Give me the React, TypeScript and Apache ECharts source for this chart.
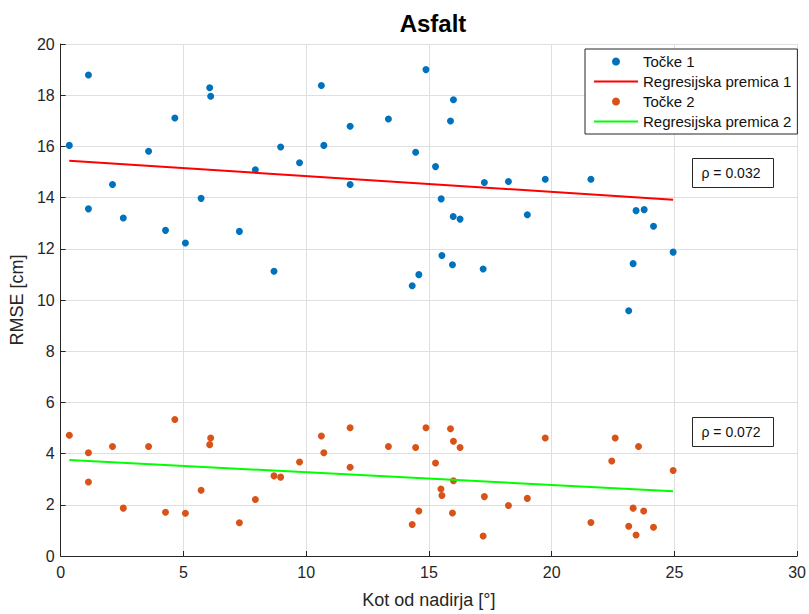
import React, { useEffect, useRef } from "react";
import * as echarts from "echarts";

const angles1 = [0.35, 1.13, 1.13, 2.11, 2.55, 3.58, 4.27, 4.65, 5.08, 5.72, 6.07, 6.11, 7.28, 7.93, 8.69, 8.96, 9.73, 10.62, 10.72, 11.79, 11.79, 13.35, 14.46, 14.32, 14.59, 14.88, 16.0, 15.88, 15.27, 15.5, 15.99, 16.27, 17.26, 18.24, 19.74, 21.6, 19.01, 15.53, 15.96, 17.21, 23.44, 23.77, 24.15, 24.95, 23.32, 23.14];
const rmse1 = [16.04, 18.79, 13.56, 14.51, 13.2, 15.81, 12.72, 17.11, 12.23, 13.97, 18.29, 17.96, 12.68, 15.09, 11.12, 15.98, 15.36, 18.38, 16.04, 16.79, 14.51, 17.07, 15.77, 10.56, 10.99, 19.0, 17.82, 16.99, 15.21, 13.95, 13.26, 13.16, 14.59, 14.63, 14.72, 14.72, 13.33, 11.74, 11.38, 11.21, 13.49, 13.53, 12.88, 11.87, 11.42, 9.58];

const angles2 = [0.35, 1.13, 1.13, 2.11, 2.55, 3.58, 4.27, 4.65, 5.08, 5.72, 6.07, 6.11, 7.28, 7.93, 8.69, 8.96, 9.73, 10.62, 10.72, 11.79, 11.79, 13.35, 14.46, 14.32, 14.59, 14.88, 15.88, 16.0, 16.27, 15.27, 16.0, 15.49, 15.53, 15.96, 17.26, 17.21, 18.24, 19.01, 19.74, 21.6, 22.59, 22.45, 23.54, 24.95, 23.32, 23.75, 23.14, 23.44, 24.15];
const rmse2 = [4.72, 4.03, 2.89, 4.28, 1.87, 4.28, 1.71, 5.33, 1.67, 2.57, 4.35, 4.61, 1.3, 2.21, 3.13, 3.08, 3.67, 4.69, 4.03, 5.01, 3.47, 4.28, 4.24, 1.23, 1.76, 5.01, 4.97, 4.48, 4.24, 3.63, 2.94, 2.62, 2.36, 1.68, 2.32, 0.78, 1.97, 2.25, 4.61, 1.31, 4.61, 3.71, 4.28, 3.34, 1.87, 1.76, 1.16, 0.82, 1.12];

const fitX = [0.35, 24.95];
const fit1 = [15.44, 13.92];
const fit2 = [3.75, 2.53];

const seriesNames = ["Točke 1", "Regresijska premica 1", "Točke 2", "Regresijska premica 2"];
const rhoLabels = ["ρ = 0.032", "ρ = 0.072"];

const xTicks = { min: 0, max: 30, interval: 5 };
const yTicks = { min: 0, max: 20, interval: 2 };

const FONT = "'Liberation Sans', Arial, Helvetica, sans-serif";
const AXIS_COLOR = "#262626";

export default function App() {
  const ref = useRef<HTMLDivElement>(null);

  useEffect(() => {
    document.body.style.margin = "0";
    if (!ref.current) return;
    const chart = echarts.init(ref.current, undefined, { renderer: "svg" });

    const pairs = (xs: number[], ys: number[]) => xs.map((x, i) => [x, ys[i]]);

    const rhoBox = (top: number, text: string) => ({
      type: "group",
      left: 692,
      top,
      children: [
        {
          type: "rect",
          shape: { x: 0, y: 0, width: 81, height: 29 },
          style: { fill: "#fff", stroke: AXIS_COLOR, lineWidth: 1 },
        },
        {
          type: "text",
          x: 9,
          y: 14.5,
          style: {
            text,
            fill: "#111",
            font: `14px ${FONT}`,
            verticalAlign: "middle",
          },
        },
      ],
    });

    chart.setOption({
      animation: false,
      backgroundColor: "#fff",
      title: {
        text: "Asfalt",
        left: 428,
        textAlign: "center",
        top: 6,
        textStyle: { fontFamily: FONT, fontSize: 24, fontWeight: "bold", color: "#000" },
      },
      grid: { left: 58, right: 11, top: 44, bottom: 52, containLabel: false },
      legend: {
        data: [
          { name: seriesNames[0], icon: "circle" },
          { name: seriesNames[1], icon: "inherit", itemStyle: { opacity: 0 } },
          { name: seriesNames[2], icon: "circle" },
          { name: seriesNames[3], icon: "inherit", itemStyle: { opacity: 0 } },
        ],
        orient: "vertical",
        left: 585,
        top: 49,
        padding: [5, 6, 5, 8],
        itemGap: 5,
        itemWidth: 44,
        itemHeight: 8,
        itemTextGap: 4,
        backgroundColor: "#fff",
        borderColor: AXIS_COLOR,
        borderWidth: 1,
        borderRadius: 0,
        textStyle: { fontFamily: FONT, fontSize: 15, color: "#111" },
      },
      xAxis: {
        type: "value",
        ...xTicks,
        name: "Kot od nadirja [°]",
        nameLocation: "middle",
        nameGap: 35,
        nameTextStyle: { fontFamily: FONT, fontSize: 18, color: AXIS_COLOR },
        axisLine: { show: true, lineStyle: { color: AXIS_COLOR, width: 1 } },
        axisTick: { show: true, inside: true, length: 5, lineStyle: { color: AXIS_COLOR } },
        axisLabel: { fontFamily: FONT, fontSize: 16, color: AXIS_COLOR, margin: 8 },
        splitLine: { show: true, lineStyle: { color: "#dfdfdf", width: 1 } },
      },
      yAxis: {
        type: "value",
        ...yTicks,
        name: "RMSE [cm]",
        nameLocation: "middle",
        nameGap: 30,
        nameTextStyle: { fontFamily: FONT, fontSize: 18, color: AXIS_COLOR },
        axisLine: { show: true, lineStyle: { color: AXIS_COLOR, width: 1 } },
        axisTick: { show: true, inside: true, length: 5, lineStyle: { color: AXIS_COLOR } },
        axisLabel: { fontFamily: FONT, fontSize: 16, color: AXIS_COLOR, margin: 6 },
        splitLine: { show: true, lineStyle: { color: "#dfdfdf", width: 1 } },
      },
      series: [
        {
          name: seriesNames[0],
          type: "scatter",
          symbol: "circle",
          symbolSize: 7,
          itemStyle: { color: "#0072BD", opacity: 1 },
          data: pairs(angles1, rmse1),
          z: 3,
        },
        {
          name: seriesNames[1],
          type: "line",
          symbol: "none",
          lineStyle: { color: "#FF0000", width: 2 },
          itemStyle: { color: "#FF0000" },
          data: pairs(fitX, fit1),
          z: 4,
        },
        {
          name: seriesNames[2],
          type: "scatter",
          symbol: "circle",
          symbolSize: 7,
          itemStyle: { color: "#D95319", opacity: 1 },
          data: pairs(angles2, rmse2),
          z: 3,
        },
        {
          name: seriesNames[3],
          type: "line",
          symbol: "none",
          lineStyle: { color: "#00FF00", width: 2 },
          itemStyle: { color: "#00FF00" },
          data: pairs(fitX, fit2),
          z: 4,
        },
      ],
      graphic: [rhoBox(158, rhoLabels[0]), rhoBox(417, rhoLabels[1])],
    });

    return () => chart.dispose();
  }, []);

  return <div ref={ref} style={{ width: 809, height: 614 }} />;
}
